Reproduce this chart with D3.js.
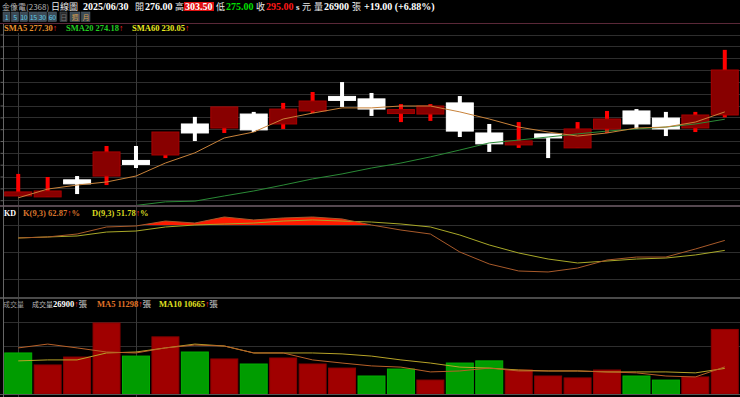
<!DOCTYPE html>
<html>
<head>
<meta charset="utf-8">
<script src="https://cdn.jsdelivr.net/npm/d3@7"></script>
<style>
  body { margin: 0; background: #000; overflow: hidden; }
  svg { display: block; }
  text { font-family: "Liberation Serif", "Noto Sans CJK TC", serif; }
  .cjk { font-family: "Noto Sans CJK TC", sans-serif; }
</style>
</head>
<body>
<script>
// ----- data -----
const opens  = [241.8, 241.4, 248.6, 250.2, 256.6, 259.1, 272.2, 270.5, 276.4, 272.2, 277.7, 283.2, 282.8,
                276.8, 276.4, 281.1, 268.4, 263.8, 268.0, 262.1, 270.1, 277.7, 274.7, 270.5, 276.0];
const highs  = [251.1, 249.8, 250.2, 262.9, 262.9, 268.8, 275.2, 279.4, 277.3, 281.1, 285.7, 289.9, 285.3,
                280.6, 280.6, 284.0, 272.2, 273.0, 268.0, 273.0, 277.7, 278.5, 277.3, 277.3, 303.5];
const lows   = [241.8, 241.4, 242.6, 246.4, 253.6, 257.8, 265.0, 268.4, 268.8, 270.1, 276.8, 279.4, 275.6,
                273.0, 273.5, 266.7, 260.4, 262.1, 257.8, 262.1, 268.4, 270.1, 267.1, 268.8, 275.0];
const closes = [243.5, 243.9, 246.9, 260.4, 255.3, 268.8, 268.4, 279.4, 269.7, 278.5, 281.9, 282.8, 278.5,
                278.1, 279.8, 269.2, 263.8, 264.6, 266.3, 270.1, 274.3, 272.2, 270.1, 276.0, 295.0];

const sma5  = [241.0, 244.7, 246.4, 247.7, 250.2, 255.7, 260.0, 266.3, 268.8, 274.3, 276.8, 279.0, 279.0,
               279.8, 279.8, 277.3, 274.3, 270.9, 268.8, 267.1, 268.4, 270.5, 270.9, 273.0, 277.3];
const sma20 = [null, null, null, null, 237.8, 239.3, 239.6, 241.8, 243.9, 246.4, 249.0, 251.1, 253.6,
               255.7, 258.3, 261.2, 264.2, 265.4, 266.7, 268.0, 269.2, 270.1, 270.9, 272.2, 274.2];

const kValues = [65.6, 66.7, 70.0, 77.8, 78.9, 84.4, 82.2, 88.9, 85.6, 87.8, 88.9, 86.7, 80.0,
                 74.4, 70.0, 50.0, 36.7, 28.9, 27.8, 32.2, 41.1, 44.4, 44.4, 53.3, 62.87];
const dValues = [65.6, 66.7, 67.8, 72.2, 73.3, 77.8, 80.0, 81.1, 82.2, 84.4, 85.6, 84.4, 83.3,
                 81.1, 77.8, 68.9, 57.8, 48.9, 42.2, 37.8, 40.0, 42.2, 43.3, 46.7, 51.78];

const volumes = [17100, 12100, 15400, 29600, 15800, 23800, 17500, 14600, 12500, 15000, 12500, 10800, 7500,
                 10400, 5800, 12900, 13800, 10000, 7500, 6700, 10000, 7500, 5800, 7100, 26900];
const volUp   = [0, 1, 1, 1, 0, 1, 0, 1, 0, 1, 1, 1, 0, 0, 1, 0, 0, 1, 1, 1, 1, 0, 0, 1, 1];
const volMa5  = [19200, 20800, 19200, 17500, 17100, 19200, 20400, 20000, 17100, 17100, 14200, 12900, 11700,
                 11200, 9200, 9600, 10800, 9600, 9600, 9600, 9200, 8800, 7500, 7100, 11298];
const volMa10 = [13800, 14200, 14200, 17100, 17500, 19200, 20800, 20000, 17100, 17100, 17100, 16700, 15800,
                 14200, 12900, 11200, 10800, 10000, 9600, 9600, 9200, 9200, 9200, 8800, 10665];

const priceTicks = d3.range(240, 311, 5);
const kdTicks = [20, 50, 80];
const volTicks = [20000, 30000];
const markIdx = [0, 4];   // vertical separators
const buttons = ["1", "5", "10", "15", "30", "60", "日", "週", "月"];

// ----- layout -----
const W = 740, H = 397;
const svg = d3.select("body").append("svg").attr("width", W).attr("height", H);
svg.append("rect").attr("width", W).attr("height", H).attr("fill", "#000");

const idx = d3.range(closes.length);
const x = d3.scaleBand().domain(idx).range([3.5, 739.5]).paddingInner(0.05).paddingOuter(0.025);
const cx = i => x(i) + x.bandwidth() / 2;

const priceY = d3.scaleLinear().domain([240, 310]).range([200.2, 34.5]);
const kdY = d3.scaleLinear().domain([0, 100]).range([297, 207]);
const volY = d3.scaleLinear().domain([0, 30000]).range([394, 322]);

const defs = svg.append("defs");
defs.append("clipPath").attr("id", "clipPrice").append("rect").attr("x", 3.5).attr("y", 33).attr("width", 737).attr("height", 172);
defs.append("clipPath").attr("id", "clipKD").append("rect").attr("x", 3.5).attr("y", 207).attr("width", 737).attr("height", 90);
defs.append("clipPath").attr("id", "clipKfill").append("rect").attr("x", 3.5).attr("y", 207).attr("width", 737).attr("height", kdY(80) - 207);

// ----- grids -----
const grid = svg.append("g");
grid.selectAll(".pg").data(priceTicks).enter().append("line")
    .attr("x1", 3.5).attr("x2", W).attr("y1", d => Math.round(priceY(d)) + 0.5).attr("y2", d => Math.round(priceY(d)) + 0.5)
    .attr("stroke", "#2e2e2e");
grid.selectAll(".kg").data(kdTicks).enter().append("line")
    .attr("x1", 3.5).attr("x2", W).attr("y1", d => Math.round(kdY(d)) + 0.5).attr("y2", d => Math.round(kdY(d)) + 0.5)
    .attr("stroke", "#2e2e2e");
grid.selectAll(".vg").data(volTicks).enter().append("line")
    .attr("x1", 3.5).attr("x2", W).attr("y1", d => Math.round(volY(d)) + 0.5).attr("y2", d => Math.round(volY(d)) + 0.5)
    .attr("stroke", "#2e2e2e");
grid.selectAll(".mk").data(markIdx).enter().append("line")
    .attr("x1", d => Math.round(cx(d)) + 0.5).attr("x2", d => Math.round(cx(d)) + 0.5)
    .attr("y1", 33).attr("y2", 397)
    .attr("stroke", "#3a3a3a");

// left scale ticks
svg.append("g").attr("transform", "translate(3.5,0)")
    .call(d3.axisLeft(priceY).tickValues(priceTicks).tickSize(3).tickFormat(""))
    .call(g => g.select(".domain").remove())
    .selectAll("line").attr("stroke", "#666");

// ----- candles -----
const price = svg.append("g").attr("clip-path", "url(#clipPrice)");
const candle = price.selectAll(".c").data(idx).enter().append("g");
candle.append("rect")
    .attr("x", i => cx(i) - 2).attr("width", 4)
    .attr("y", i => priceY(highs[i]))
    .attr("height", i => Math.max(1, priceY(lows[i]) - priceY(highs[i])))
    .attr("fill", i => closes[i] >= opens[i] ? "#ff0000" : "#ffffff");
candle.append("rect")
    .attr("x", i => x(i) + 0.5).attr("width", x.bandwidth() - 1)
    .attr("y", i => {
        const t = priceY(Math.max(opens[i], closes[i])), b = priceY(Math.min(opens[i], closes[i]));
        return b - t < 4 ? (t + b) / 2 - 2 : t;
    })
    .attr("height", i => Math.max(4, priceY(Math.min(opens[i], closes[i])) - priceY(Math.max(opens[i], closes[i]))))
    .attr("fill", i => closes[i] >= opens[i] ? "#880000" : "#ffffff")
    .attr("stroke", i => closes[i] >= opens[i] ? "#a80000" : "#ffffff")
    .attr("stroke-width", 1);

const priceLine = d3.line().defined(d => d != null).x((d, i) => cx(i)).y(d => priceY(d));
price.append("path").datum(sma20).attr("d", priceLine).attr("fill", "none").attr("stroke", "#2a8a36").attr("stroke-width", 1);
price.append("path").datum(sma5).attr("d", priceLine).attr("fill", "none").attr("stroke", "#c8823a").attr("stroke-width", 1);

// ----- KD -----
const kd = svg.append("g").attr("clip-path", "url(#clipKD)");
kd.append("path").datum(kValues)
    .attr("clip-path", "url(#clipKfill)")
    .attr("d", d3.area().x((d, i) => cx(i)).y0(kdY(80)).y1(d => kdY(d)))
    .attr("fill", "#ff1a00");
const kdLine = d3.line().x((d, i) => cx(i)).y(d => kdY(d));
kd.append("path").datum(dValues).attr("d", kdLine).attr("fill", "none").attr("stroke", "#a8a828").attr("stroke-width", 1);
kd.append("path").datum(kValues).attr("d", kdLine).attr("fill", "none").attr("stroke", "#a85a2a").attr("stroke-width", 1);

// ----- volume -----
const vol = svg.append("g");
vol.selectAll(".v").data(idx).enter().append("rect")
    .attr("x", i => x(i) + 0.5).attr("width", x.bandwidth() - 1)
    .attr("y", i => volY(volumes[i]))
    .attr("height", i => volY(0) - volY(volumes[i]))
    .attr("fill", i => volUp[i] ? "#a00000" : "#009c00")
    .attr("stroke", i => volUp[i] ? "#8a0000" : "#00b000")
    .attr("stroke-width", 1);
const volLine = d3.line().x((d, i) => cx(i)).y(d => volY(d));
vol.append("path").datum(volMa10).attr("d", volLine).attr("fill", "none").attr("stroke", "#b8a428").attr("stroke-width", 1);
vol.append("path").datum(volMa5).attr("d", volLine).attr("fill", "none").attr("stroke", "#b86028").attr("stroke-width", 1);

// ----- panel borders -----
svg.append("line").attr("x1", 0).attr("x2", W).attr("y1", 23.5).attr("y2", 23.5).attr("stroke", "#5a2838");
svg.append("rect").attr("x", 0).attr("y", 205).attr("width", W).attr("height", 2).attr("fill", "#564850");
svg.append("rect").attr("x", 0).attr("y", 297).attr("width", W).attr("height", 2).attr("fill", "#4a4a4a");
svg.append("line").attr("x1", 0).attr("x2", W).attr("y1", 394.5).attr("y2", 394.5).attr("stroke", "#555");
svg.append("line").attr("x1", 3.5).attr("x2", 3.5).attr("y1", 24).attr("y2", 397).attr("stroke", "#666");

// ----- header -----
function seg(g, xPos, y, parts, size) {
    const t = g.append("text").attr("x", xPos).attr("y", y).attr("font-size", size).attr("font-weight", "bold");
    parts.forEach(p => t.append("tspan").attr("fill", p[1]).attr("class", p[2] || null).text(p[0]));
    return t;
}
function cjk(g, xPos, y, str, size, color) {
    return g.append("text").attr("class", "cjk").attr("x", xPos).attr("y", y).attr("font-size", size).attr("fill", color).text(str);
}
const head = svg.append("g");
cjk(head, 2, 10, "金像電(2368)", 8, "#b4b4b4");
cjk(head, 51, 10, "日線圖", 9, "#e8e8e8");
seg(head, 83, 10, [["2025/06/30", "#fff"]], 10);
cjk(head, 135, 10, "開", 9, "#e8e8e8");
seg(head, 145, 10, [["276.00", "#fff"]], 10);
cjk(head, 175, 10, "高", 9, "#e8e8e8");
head.append("rect").attr("x", 184).attr("y", 2).attr("width", 30).attr("height", 9).attr("fill", "#e01010");
seg(head, 185, 10, [["303.50", "#fff"]], 10);
cjk(head, 216, 10, "低", 9, "#e8e8e8");
seg(head, 226, 10, [["275.00", "#00e000"]], 10);
cjk(head, 256, 10, "收", 9, "#e8e8e8");
seg(head, 266, 10, [["295.00", "#ff1818"]], 10);
seg(head, 296, 10, [["s ", "#e8e8e8"]], 9);
cjk(head, 302, 10, "元", 9, "#e8e8e8");
cjk(head, 314, 10, "量", 9, "#e8e8e8");
seg(head, 324, 10, [["26900", "#fff"]], 10);
cjk(head, 352, 10, "張", 9, "#e8e8e8");
seg(head, 364, 10, [["+19.00 (+6.88%)", "#fff"]], 10);

// period buttons
const btnX = [3, 11.5, 20, 29, 38, 48, 60, 70, 81.5];
const btnW = [7, 7, 7.5, 8.5, 8.5, 8.5, 7, 10, 8.5];
const btn = head.selectAll(".b").data(buttons).enter().append("g");
btn.append("rect")
    .attr("x", (d, i) => btnX[i]).attr("y", 12).attr("width", (d, i) => btnW[i]).attr("height", 9.5)
    .attr("fill", d => d === "日" ? "#2a2a2a" : "#3c4a56").attr("stroke", "#55636e").attr("stroke-width", 0.5);
btn.append("text")
    .attr("class", "cjk")
    .attr("x", (d, i) => btnX[i] + btnW[i] / 2).attr("y", 19.5).attr("text-anchor", "middle")
    .attr("font-size", 7).attr("letter-spacing", -0.3)
    .attr("fill", d => d === "日" ? "#777" : (d === "週" || d === "月") ? "#d8a050" : "#5ccbe8")
    .text(d => d);

// ----- legends -----
seg(head, 4, 31, [["SMA5 277.30", "#e8902c"], ["↑", "#ff2020"]], 8.5);
seg(head, 66, 31, [["SMA20 274.18", "#22cc22"], ["↑", "#ff2020"]], 8.5);
seg(head, 132, 31, [["SMA60 230.05", "#e8e820"], ["↑", "#ff2020"]], 8.5);

seg(head, 4, 215.5, [["KD", "#ffffff"]], 8);
seg(head, 23, 215.5, [["K(9,3) 62.87", "#d8742c"], ["↑", "#ff2020"], ["%", "#d8742c"]], 8.5);
seg(head, 92, 215.5, [["D(9,3) 51.78", "#d8d820"], ["↑", "#ff2020"], ["%", "#d8d820"]], 8.5);

cjk(head, 3, 306.5, "成交量", 7, "#999");
cjk(head, 32, 306.5, "成交量", 7, "#bbb");
seg(head, 53, 306.5, [["26900", "#ffffff"], ["↑", "#ff2020"], ["張", "#999", "cjk"]], 8.5);
seg(head, 97, 306.5, [["MA5 11298", "#e07428"], ["↑", "#ff2020"], ["張", "#999", "cjk"]], 8.5);
seg(head, 159, 306.5, [["MA10 10665", "#e0e020"], ["↑", "#ff2020"], ["張", "#999", "cjk"]], 8.5);
</script>
</body>
</html>
